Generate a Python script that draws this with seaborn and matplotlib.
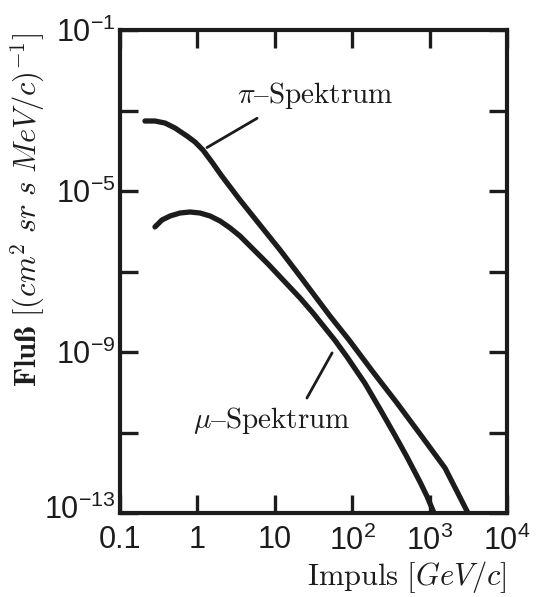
import matplotlib
matplotlib.use("Agg")
import matplotlib.pyplot as plt
import matplotlib.transforms as mtransforms
import seaborn as sns
import pandas as pd

# ---- data ----
pi_p = [0.21, 0.283, 0.381, 0.514, 0.734, 0.931, 1.18, 1.54, 2.02, 3.55, 6.44,
        11.7, 23.1, 51.6, 91.0, 186, 379, 752, 1582, 3133]
pi_flux = [5.48e-4, 5.48e-4, 4.89e-4, 3.67e-4, 2.32e-4, 1.65e-4, 1.04e-4,
           5.25e-5, 2.50e-5, 5.98e-6, 1.43e-6, 3.42e-7, 6.15e-8, 7.83e-9,
           1.99e-9, 3.18e-10, 5.41e-11, 9.18e-12, 1.31e-12, 1.0e-13]

mu_p = [0.283, 0.349, 0.443, 0.596, 0.802, 1.08, 1.46, 1.96, 2.64, 3.55, 5.23,
        8.17, 12.8, 21.2, 31.2, 60.0, 85.8, 146, 229, 357, 511, 752, 925, 1140]
mu_flux = [1.28e-6, 1.91e-6, 2.39e-6, 2.84e-6, 3.01e-6, 2.84e-6, 2.39e-6,
           1.80e-6, 1.21e-6, 7.62e-7, 3.62e-7, 1.54e-7, 6.15e-8, 2.20e-8,
           9.31e-9, 1.94e-9, 7.52e-10, 1.67e-10, 3.8e-11, 8.5e-12, 2.45e-12,
           5.9e-13, 2.6e-13, 1.0e-13]

x_ticks = [0.1, 1, 10, 100, 1000, 10000]
x_ticklabels = ["0.1", "1", "10", r"$\mathregular{10^2}$",
                r"$\mathregular{10^3}$", r"$\mathregular{10^4}$"]
y_ticks = [1e-1, 1e-3, 1e-5, 1e-7, 1e-9, 1e-11, 1e-13]
y_ticklabels = [r"$\mathregular{10^{-1}}$", "", r"$\mathregular{10^{-5}}$", "",
                r"$\mathregular{10^{-9}}$", "", r"$\mathregular{10^{-13}}$"]

pi_label = r"$\pi\mathrm{–Spektrum}$"
mu_label = r"$\mu\mathrm{–Spektrum}$"
x_label = r"$\mathrm{Impuls}\ [GeV/c]$"
y_label = r"$\mathbf{Flu\ss}\ [(cm^2\ sr\ s\ MeV/c)^{-1}]$"

df = pd.concat([
    pd.DataFrame({"p": pi_p, "flux": pi_flux, "spec": "pi"}),
    pd.DataFrame({"p": mu_p, "flux": mu_flux, "spec": "mu"}),
])

sns.set_theme(style="ticks")
plt.rcParams["font.family"] = ["Liberation Sans", "DejaVu Sans"]

ink = "#1c1c1c"
fig = plt.figure(figsize=(5.43, 5.97), dpi=100)
ax = fig.add_axes([120 / 543, 1 - 513 / 597, 387 / 543, 483 / 597])

sns.lineplot(data=df, x="p", y="flux", hue="spec", palette={"pi": ink, "mu": ink},
             estimator=None, legend=False, ax=ax, linewidth=3.8,
             solid_capstyle="round", solid_joinstyle="round")

ax.set_xscale("log")
ax.set_yscale("log")
ax.set_xlim(0.1, 1e4)
ax.set_ylim(1e-13, 1e-1)

ax.set_xticks(x_ticks)
ax.set_xticklabels(x_ticklabels, fontsize=22)
ax.set_yticks(y_ticks)
ax.set_yticklabels(y_ticklabels, fontsize=22)
ax.minorticks_off()
ax.tick_params(axis="both", which="major", direction="in", length=13, width=2.4,
               color=ink, top=True, right=True, labelcolor=ink)
ax.tick_params(axis="x", pad=9)
ax.tick_params(axis="y", pad=3)

# nudge the lowest y label upward, as in the original
shift = mtransforms.ScaledTranslation(0, 6 / 100, fig.dpi_scale_trans)
lab = ax.get_yticklabels()[-1]
lab.set_transform(lab.get_transform() + shift)

for s in ax.spines.values():
    s.set_linewidth(3.0)
    s.set_color(ink)

# curve labels with leader lines
ax.text(33, 2.4e-3, pi_label, fontsize=21, ha="center", va="center",
        color=ink, math_fontfamily="cm")
ax.annotate("", xy=(1.33, 1.2e-4), xytext=(5.9, 6.4e-4),
            arrowprops=dict(arrowstyle="-", lw=2.0, color=ink, shrinkA=0, shrinkB=0))
ax.text(9.1, 2.0e-11, mu_label, fontsize=21, ha="center", va="center",
        color=ink, math_fontfamily="cm")
ax.annotate("", xy=(55, 9.5e-10), xytext=(26, 7.2e-11),
            arrowprops=dict(arrowstyle="-", lw=2.0, color=ink, shrinkA=0, shrinkB=0))

ax.set_xlabel(x_label, fontsize=22, ha="right", va="center", color=ink,
              math_fontfamily="cm")
ax.xaxis.set_label_coords(1.0, (513 - 577) / 483)
ax.set_ylabel(y_label, fontsize=22, ha="center", va="center", color=ink,
              math_fontfamily="cm")
ax.yaxis.set_label_coords((28 - 120) / 387, (513 - 210) / 483)

fig.savefig("out.png", dpi=100)
